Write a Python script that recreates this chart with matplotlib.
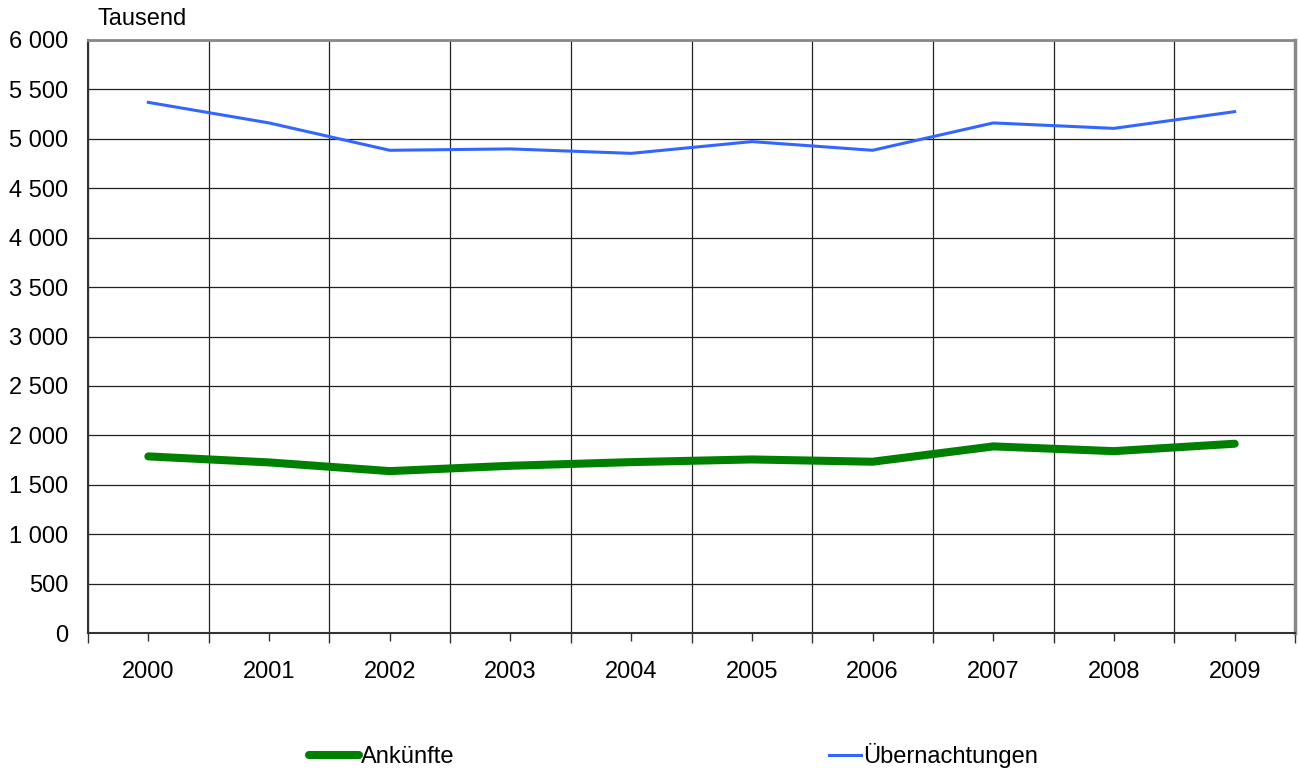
import matplotlib.pyplot as plt
from matplotlib.ticker import FuncFormatter, FixedLocator

years = ['2000', '2001', '2002', '2003', '2004', '2005', '2006', '2007', '2008', '2009']
ankuenfte = [1787, 1726, 1638, 1692, 1729, 1756, 1733, 1888, 1840, 1915]
uebernachtungen = [5369, 5161, 4884, 4898, 4853, 4972, 4884, 5161, 5106, 5275]

plt.rcParams['font.family'] = ['Liberation Sans', 'DejaVu Sans']

fig = plt.figure(figsize=(12.99, 7.72), dpi=100)
ax = fig.add_axes([88 / 1299, 1 - 633 / 772, (1295 - 88) / 1299, (633 - 40) / 772])

x = list(range(len(years)))
l1, = ax.plot(x, ankuenfte, color='#008000', lw=5.8, solid_capstyle='round',
              solid_joinstyle='round', label='Ankünfte', zorder=3)
l2, = ax.plot(x, uebernachtungen, color='#3366FF', lw=2.2, label='Übernachtungen', zorder=3)

ax.set_xlim(-0.5, len(years) - 0.5)
ax.set_ylim(0, 6000)
ax.set_yticks(range(0, 6001, 500))
ax.yaxis.set_major_formatter(FuncFormatter(lambda v, p: f'{int(v):,}'.replace(',', ' ')))

# boundaries as major ticks (gridlines), centres as minor ticks (labels)
ax.xaxis.set_major_locator(FixedLocator([i - 0.5 for i in range(len(years) + 1)]))
ax.xaxis.set_minor_locator(FixedLocator(x))
ax.set_xticklabels([])
ax.set_xticklabels(years, minor=True)

ax.tick_params(axis='x', which='major', length=7, width=1, color='#333333')
ax.tick_params(axis='x', which='minor', length=6, width=1, color='#333333', pad=14, labelsize=17)
ax.tick_params(axis='y', length=0, pad=14, labelsize=17)

ax.grid(True, which='major', color='#222222', lw=0.9)
ax.set_axisbelow(True)

ax.spines['left'].set_color('#333333')
ax.spines['left'].set_linewidth(1.5)
ax.spines['bottom'].set_color('#333333')
ax.spines['bottom'].set_linewidth(1.5)
ax.spines['top'].set_color('#888888')
ax.spines['top'].set_linewidth(2)
ax.spines['right'].set_color('#888888')
ax.spines['right'].set_linewidth(2.5)

fig.text(97 / 1299, 1 - 19 / 772, 'Tausend', fontsize=17, va='center', ha='left')

fig.legend(handles=[l1], loc='center left', bbox_to_anchor=(309 / 1299, 1 - 757 / 772),
           frameon=False, fontsize=17, handlelength=2.1, handletextpad=0.1,
           borderaxespad=0, borderpad=0)
fig.legend(handles=[l2], loc='center left', bbox_to_anchor=(829 / 1299, 1 - 755.5 / 772),
           frameon=False, fontsize=17, handlelength=1.35, handletextpad=0.1,
           borderaxespad=0, borderpad=0)

fig.savefig('out.png', dpi=100)
